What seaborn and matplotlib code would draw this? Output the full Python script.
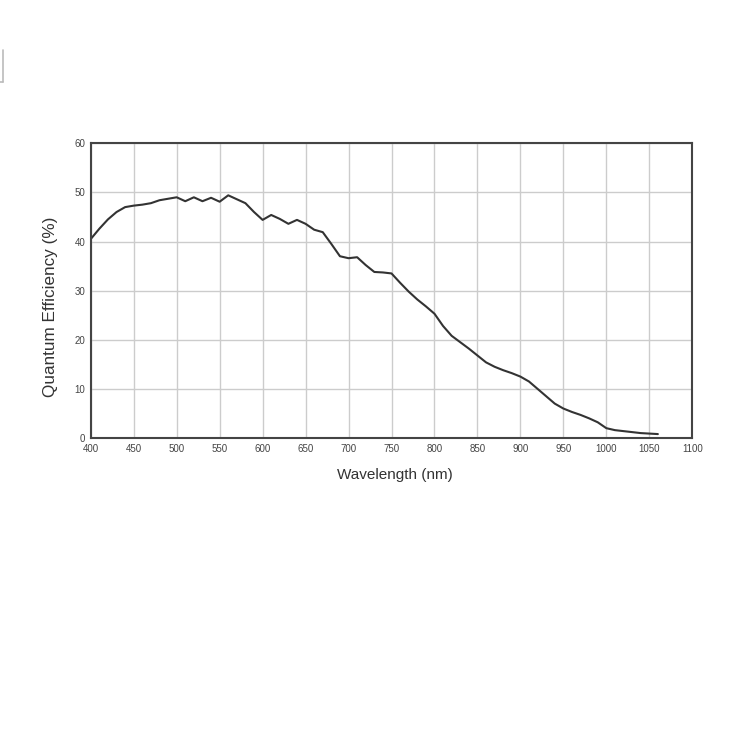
import matplotlib
matplotlib.use("Agg")
import matplotlib.pyplot as plt
import seaborn as sns
import pandas as pd
from matplotlib.lines import Line2D

wavelength = [400, 410, 420, 430, 440, 450, 460, 470, 480, 490, 500, 510, 520, 530,
              540, 550, 560, 570, 580, 590, 600, 610, 620, 630, 640, 650, 660, 670,
              680, 690, 700, 710, 720, 730, 740, 750, 760, 770, 780, 790, 800, 810,
              820, 830, 840, 850, 860, 870, 880, 890, 900, 910, 920, 930, 940, 950,
              960, 970, 980, 990, 1000, 1010, 1020, 1030, 1040, 1050, 1060]
qe = [40.5, 42.6, 44.5, 46.0, 47.0, 47.3, 47.5, 47.8, 48.4, 48.7, 49.0, 48.2, 49.0, 48.2,
      48.9, 48.1, 49.4, 48.6, 47.8, 46.0, 44.4, 45.4, 44.6, 43.6, 44.4, 43.6, 42.4, 41.9,
      39.5, 37.0, 36.6, 36.8, 35.2, 33.8, 33.7, 33.5, 31.6, 29.8, 28.2, 26.8, 25.3, 22.8,
      20.8, 19.5, 18.2, 16.8, 15.4, 14.5, 13.8, 13.2, 12.5, 11.5, 10.0, 8.5, 7.0, 6.0,
      5.3, 4.7, 4.0, 3.2, 2.0, 1.6, 1.4, 1.2, 1.0, 0.9, 0.8]
x_ticks = list(range(400, 1101, 50))
y_ticks = [0, 10, 20, 30, 40, 50, 60]

df = pd.DataFrame({"Wavelength (nm)": wavelength, "Quantum Efficiency (%)": qe})

sns.set_theme(style="white")
plt.rcParams["font.family"] = ["Liberation Sans", "DejaVu Sans"]

fig = plt.figure(figsize=(7.5, 7.5), dpi=100)
ax = fig.add_axes([0.121, 0.416, 0.802, 0.393])

sns.lineplot(data=df, x="Wavelength (nm)", y="Quantum Efficiency (%)", ax=ax,
             color="#333333", linewidth=1.5)

ax.set_xlim(400, 1100)
ax.set_ylim(0, 60)
ax.set_xticks(x_ticks)
ax.set_yticks(y_ticks)
ax.tick_params(axis="both", labelsize=7, colors="#444444", length=0, pad=4)
ax.grid(True, color="#cccccc", linewidth=1)
for s in ax.spines.values():
    s.set_color("#444444")
    s.set_linewidth(1.5)
ax.set_xlabel("Wavelength (nm)", fontsize=11, color="#333333")
ax.set_ylabel("Quantum Efficiency (%)", fontsize=12.3, color="#333333")
ax.xaxis.set_label_coords(0.506, -0.125)
ax.yaxis.set_label_coords(-0.0666, 0.444)
ax.xaxis.label.set_verticalalignment("center")
ax.yaxis.label.set_verticalalignment("center")

# small artifact at top-left
fig.add_artist(Line2D([3/750, 3/750], [1-50/750, 1-82/750], color="#bbbbbb", linewidth=1.2))
fig.add_artist(Line2D([0, 3/750], [1-82/750, 1-82/750], color="#bbbbbb", linewidth=1.2))

fig.savefig("out.png", dpi=100)
